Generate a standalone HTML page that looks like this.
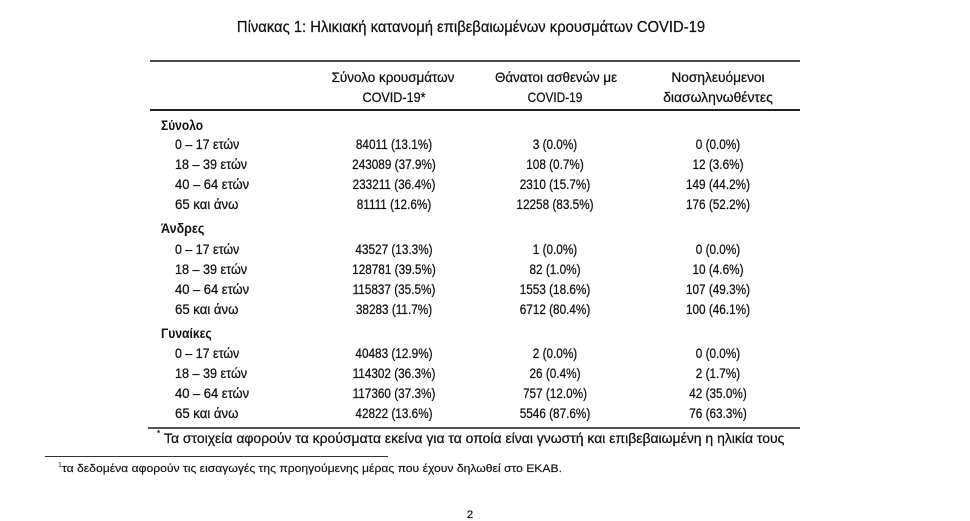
<!DOCTYPE html>
<html>
<head>
<meta charset="utf-8">
<style>
html,body{margin:0;padding:0;background:#fff;}
body{width:970px;height:513px;position:relative;overflow:hidden;font-family:"Liberation Sans","DejaVu Sans",sans-serif;color:#111;}
.t{position:absolute;white-space:nowrap;line-height:1;font-size:14px;transform-origin:0 0;transform:scaleX(.84);-webkit-text-stroke:0.25px #111;}
.c{transform-origin:50% 0;transform:translateX(-50%) scaleX(.84);}
.b{font-weight:bold;-webkit-text-stroke:0;}
.ln{position:absolute;}
</style>
</head>
<body>
<div class="t c" style="left:471px;top:20px;font-size:16px;--w:468">Πίνακας 1: Ηλικιακή κατανομή επιβεβαιωμένων κρουσμάτων COVID-19</div>

<div class="ln" style="left:150px;top:60px;width:650px;height:2px;background:#4a4a4a;"></div>
<div class="ln" style="left:150px;top:109px;width:650px;height:2px;background:#222;"></div>

<div class="t c" style="left:393px;top:70px;--w:123">Σύνολο κρουσμάτων</div>
<div class="t c" style="left:394px;top:90px;--w:63">COVID-19*</div>
<div class="t c" style="left:556px;top:70px;--w:122">Θάνατοι ασθενών με</div>
<div class="t c" style="left:555px;top:90px;--w:55">COVID-19</div>
<div class="t c" style="left:718px;top:70px;--w:93">Νοσηλευόμενοι</div>
<div class="t c" style="left:718px;top:90px;--w:110">διασωληνωθέντες</div>

<!-- Σύνολο -->
<div class="t b" style="left:161px;top:118px;--w:42">Σύνολο</div>
<div class="t" style="left:175px;top:137px;--w:64">0 – 17 ετών</div>
<div class="t" style="left:175px;top:157px;--w:72">18 – 39 ετών</div>
<div class="t" style="left:175px;top:177px;--w:74">40 – 64 ετών</div>
<div class="t" style="left:175px;top:197px;--w:63">65 και άνω</div>
<div class="t c" style="left:394px;top:137px;">84011 (13.1%)</div>
<div class="t c" style="left:394px;top:157px;">243089 (37.9%)</div>
<div class="t c" style="left:394px;top:177px;">233211 (36.4%)</div>
<div class="t c" style="left:394px;top:197px;">81111 (12.6%)</div>
<div class="t c" style="left:555px;top:137px;">3 (0.0%)</div>
<div class="t c" style="left:555px;top:157px;">108 (0.7%)</div>
<div class="t c" style="left:555px;top:177px;">2310 (15.7%)</div>
<div class="t c" style="left:555px;top:197px;">12258 (83.5%)</div>
<div class="t c" style="left:718px;top:137px;">0 (0.0%)</div>
<div class="t c" style="left:718px;top:157px;">12 (3.6%)</div>
<div class="t c" style="left:718px;top:177px;">149 (44.2%)</div>
<div class="t c" style="left:718px;top:197px;">176 (52.2%)</div>

<!-- Άνδρες -->
<div class="t b" style="left:161px;top:221px;--w:43">Άνδρες</div>
<div class="t" style="left:175px;top:242px;--w:64">0 – 17 ετών</div>
<div class="t" style="left:175px;top:262px;--w:72">18 – 39 ετών</div>
<div class="t" style="left:175px;top:282px;--w:74">40 – 64 ετών</div>
<div class="t" style="left:175px;top:302px;--w:63">65 και άνω</div>
<div class="t c" style="left:394px;top:242px;">43527 (13.3%)</div>
<div class="t c" style="left:394px;top:262px;">128781 (39.5%)</div>
<div class="t c" style="left:394px;top:282px;">115837 (35.5%)</div>
<div class="t c" style="left:394px;top:302px;">38283 (11.7%)</div>
<div class="t c" style="left:555px;top:242px;">1 (0.0%)</div>
<div class="t c" style="left:555px;top:262px;">82 (1.0%)</div>
<div class="t c" style="left:555px;top:282px;">1553 (18.6%)</div>
<div class="t c" style="left:555px;top:302px;">6712 (80.4%)</div>
<div class="t c" style="left:718px;top:242px;">0 (0.0%)</div>
<div class="t c" style="left:718px;top:262px;">10 (4.6%)</div>
<div class="t c" style="left:718px;top:282px;">107 (49.3%)</div>
<div class="t c" style="left:718px;top:302px;">100 (46.1%)</div>

<!-- Γυναίκες -->
<div class="t b" style="left:161px;top:326px;--w:51">Γυναίκες</div>
<div class="t" style="left:175px;top:346px;--w:64">0 – 17 ετών</div>
<div class="t" style="left:175px;top:366px;--w:72">18 – 39 ετών</div>
<div class="t" style="left:175px;top:386px;--w:74">40 – 64 ετών</div>
<div class="t" style="left:175px;top:406px;--w:63">65 και άνω</div>
<div class="t c" style="left:394px;top:346px;">40483 (12.9%)</div>
<div class="t c" style="left:394px;top:366px;">114302 (36.3%)</div>
<div class="t c" style="left:394px;top:386px;">117360 (37.3%)</div>
<div class="t c" style="left:394px;top:406px;">42822 (13.6%)</div>
<div class="t c" style="left:555px;top:346px;">2 (0.0%)</div>
<div class="t c" style="left:555px;top:366px;">26 (0.4%)</div>
<div class="t c" style="left:555px;top:386px;">757 (12.0%)</div>
<div class="t c" style="left:555px;top:406px;">5546 (87.6%)</div>
<div class="t c" style="left:718px;top:346px;">0 (0.0%)</div>
<div class="t c" style="left:718px;top:366px;">2 (1.7%)</div>
<div class="t c" style="left:718px;top:386px;">42 (35.0%)</div>
<div class="t c" style="left:718px;top:406px;">76 (63.3%)</div>

<div class="ln" style="left:148px;top:427px;width:652px;height:2px;background:#555;"></div>

<div class="t" style="left:157px;top:430px;font-size:8px;transform:none;">*</div>
<div class="t" style="left:164px;top:431px;--w:620">Τα στοιχεία αφορούν τα κρούσματα εκείνα για τα οποία είναι γνωστή και επιβεβαιωμένη η ηλικία τους</div>

<div class="ln" style="left:45px;top:456px;width:343px;height:1px;background:#333;"></div>

<div class="t" style="left:58px;top:462px;font-size:7px;transform:none;-webkit-text-stroke:0;">1</div>
<div class="t" style="left:62px;top:464px;font-size:11px;--w:500;-webkit-text-stroke:0.15px #111;">τα δεδομένα αφορούν τις εισαγωγές της προηγούμενης μέρας που έχουν δηλωθεί στο ΕΚΑΒ.</div>

<div class="t" style="left:467px;top:510px;font-size:11px;transform:none;">2</div>

<script>
document.querySelectorAll('.t').forEach(function(el){
  var w=parseFloat(getComputedStyle(el).getPropertyValue('--w'));
  if(w && el.offsetWidth){
    var s=w/el.offsetWidth;
    if(el.classList.contains('c')){el.style.transform='translateX(-50%) scaleX('+s+')';}
    else{el.style.transform='scaleX('+s+')';}
  }
});
</script>
</body>
</html>
